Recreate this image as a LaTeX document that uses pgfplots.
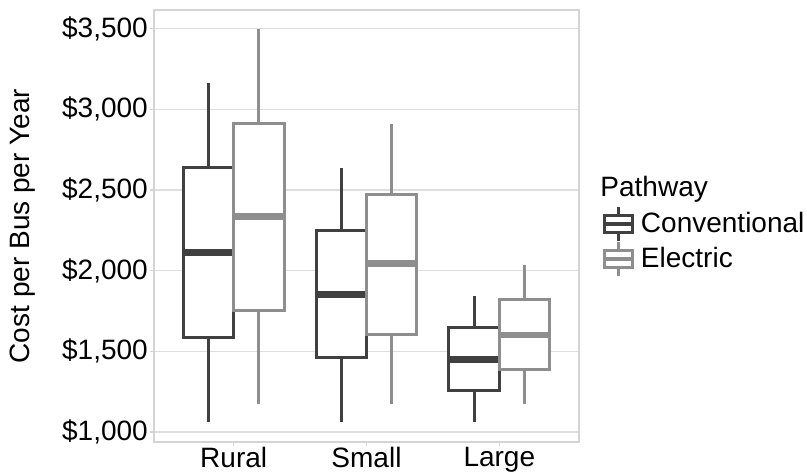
\documentclass[border=0pt]{standalone}
\usepackage{fontspec}
\setmainfont{Liberation Sans}
\usepackage{pgfplots}
\pgfplotsset{compat=1.18}
\definecolor{conv}{HTML}{404040}
\definecolor{elec}{HTML}{8E8E8E}
\definecolor{gridc}{HTML}{DEDEDE}
\definecolor{framec}{HTML}{D4D4D4}
\pgfplotsset{
  boxc/.style={conv, line width=3pt, fill=white, line join=miter, forget plot, mark=none},
  boxe/.style={elec, line width=3pt, fill=white, line join=miter, forget plot, mark=none},
  whc/.style={conv, line width=3pt, forget plot, mark=none},
  whe/.style={elec, line width=3pt, forget plot, mark=none},
  medc/.style={conv, line width=6.5pt, forget plot, mark=none},
  mede/.style={elec, line width=6.5pt, forget plot, mark=none},
}
\begin{document}
\fontsize{28}{33}\selectfont
\begin{tikzpicture}
\path[use as bounding box] (-154pt,-32pt) rectangle (653pt,442pt);
\begin{axis}[
  at={(0pt,0pt)}, anchor=south west,
  width=425pt, height=432pt, scale only axis,
  clip mode=individual,
  xmin=-0.6, xmax=2.6, ymin=938, ymax=3615,
  xtick={0,1,2}, xticklabels={Rural,Small,Large},
  ytick={1000,1500,2000,2500,3000,3500},
  yticklabels={{\$1,000},{\$1,500},{\$2,000},{\$2,500},{\$3,000},{\$3,500}},
  ymajorgrids, major grid style={gridc, line width=1.2pt},
  axis line style={framec, line width=1.2pt},
  tick style={framec, line width=1.2pt},
  tick align=outside, major tick length=4pt, tick pos=left,
  yticklabel style={inner sep=2pt},
  xticklabel style={inner sep=1.5pt},
  ylabel={Cost per Bus per Year},
  ylabel style={at={(axis description cs:-0.308,0.5)}, anchor=center},
  legend style={at={(axis description cs:1.056,0.547)}, anchor=north west,
    draw=none, fill=none, inner sep=0pt, row sep=-2pt,
    /tikz/every odd column/.style={column sep=6pt},
    nodes={inner sep=1pt}},
  legend cell align=left,
]
% ---- Rural (x=0) ----
% Conventional: 1060, 1584, 2113, 2640, 3164
\addplot[whc] coordinates {(-0.19,1060) (-0.19,1584)};
\addplot[whc] coordinates {(-0.19,2640) (-0.19,3164)};
\addplot[boxc] coordinates {(-0.38,1584) (0,1584) (0,2640) (-0.38,2640)} -- cycle;
\addplot[medc] coordinates {(-0.38,2113) (0,2113)};
% Electric: 1171, 1750, 2334, 2913, 3495
\addplot[whe] coordinates {(0.19,1171) (0.19,1750)};
\addplot[whe] coordinates {(0.19,2913) (0.19,3495)};
\addplot[boxe] coordinates {(0,1750) (0.38,1750) (0.38,2913) (0,2913)} -- cycle;
\addplot[mede] coordinates {(0,2334) (0.38,2334)};
% ---- Small (x=1) ----
% Conventional: 1060, 1460, 1851, 2247, 2638
\addplot[whc] coordinates {(0.81,1060) (0.81,1460)};
\addplot[whc] coordinates {(0.81,2247) (0.81,2638)};
\addplot[boxc] coordinates {(0.62,1460) (1,1460) (1,2247) (0.62,2247)} -- cycle;
\addplot[medc] coordinates {(0.62,1851) (1,1851)};
% Electric: 1171, 1605, 2045, 2473, 2908
\addplot[whe] coordinates {(1.19,1171) (1.19,1605)};
\addplot[whe] coordinates {(1.19,2473) (1.19,2908)};
\addplot[boxe] coordinates {(1,1605) (1.38,1605) (1.38,2473) (1,2473)} -- cycle;
\addplot[mede] coordinates {(1,2045) (1.38,2045)};
% ---- Large (x=2) ----
% Conventional: 1060, 1260, 1450, 1649, 1845
\addplot[whc] coordinates {(1.81,1060) (1.81,1260)};
\addplot[whc] coordinates {(1.81,1649) (1.81,1845)};
\addplot[boxc] coordinates {(1.62,1260) (2,1260) (2,1649) (1.62,1649)} -- cycle;
\addplot[medc] coordinates {(1.62,1450) (2,1450)};
% Electric: 1171, 1390, 1601, 1818, 2033
\addplot[whe] coordinates {(2.19,1171) (2.19,1390)};
\addplot[whe] coordinates {(2.19,1818) (2.19,2033)};
\addplot[boxe] coordinates {(2,1390) (2.38,1390) (2.38,1818) (2,1818)} -- cycle;
\addplot[mede] coordinates {(2,1601) (2.38,1601)};

\addlegendimage{legend image code/.code={
  \draw[conv, line width=3pt] (15pt,-17pt)--(15pt,-8.5pt) (15pt,8.5pt)--(15pt,17pt);
  \draw[conv, line width=3pt, fill=white] (1.5pt,-8.5pt) rectangle (28.5pt,8.5pt);
  \draw[conv, line width=4pt] (1.5pt,0pt)--(28.5pt,0pt);
}}
\addlegendentry{Conventional}
\addlegendimage{legend image code/.code={
  \draw[elec, line width=3pt] (15pt,-17pt)--(15pt,-8.5pt) (15pt,8.5pt)--(15pt,17pt);
  \draw[elec, line width=3pt, fill=white] (1.5pt,-8.5pt) rectangle (28.5pt,8.5pt);
  \draw[elec, line width=4pt] (1.5pt,0pt)--(28.5pt,0pt);
}}
\addlegendentry{Electric}
\node[anchor=base west, inner sep=0pt] at (axis description cs:1.05,0.568) {Pathway};
\end{axis}
\end{tikzpicture}
\end{document}
